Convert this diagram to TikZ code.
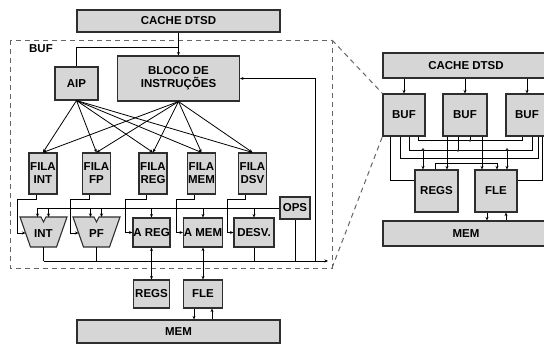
\documentclass[tikz,border=0pt]{standalone}
\usepackage{fontspec}
\setsansfont{Liberation Sans}
\usetikzlibrary{arrows.meta}
\definecolor{ink}{gray}{0.18}
\definecolor{shade}{gray}{0.84}
\definecolor{frame}{gray}{0.40}

\begin{document}
\begin{tikzpicture}[x=1pt,y=-1pt,line width=0.8pt,
  >={Stealth[length=3.5pt,width=3pt]},
  lab/.style={font=\sffamily\bfseries\fontsize{11.5}{13}\selectfont},
  alu/.style={draw=ink,fill=shade,line width=1.1pt},
  blk/.style={alu,lab,inner sep=0pt,align=center},
  hull/.style={draw=frame,line width=1pt,dash pattern=on 5pt off 4pt}]
  \useasboundingbox (0,0) rectangle (544,346);
  % left: one buf in detail
  \node[blk,minimum width=203,minimum height=22] (cacheL) at (178.5,21) {CACHE DTSD};
  \coordinate (bufnw) at (10,40);
  \coordinate (bufne) at (332,40);
  \coordinate (bufse) at (332,268);
  \draw[hull] (bufnw) rectangle (bufse);
  \node[lab] (buflbl) at (41,49) {BUF};
  \node[blk,minimum width=43,minimum height=33] (aip) at (76.5,83.5) {AIP};
  \node[blk,minimum width=122,minimum height=45] (bloco) at (178.5,78.5) {BLOCO DE\\INSTRUÇÕES};
  \coordinate (jt) at (178.5,47);
  \draw[->] (cacheL.south) -- (bloco.north);
  \draw (aip.north) |- (jt);
  \foreach \n/\x/\lbl in {int/43/INT,fp/96.5/FP,reg/153/REG,mem/201.5/MEM,dsv/252.5/DSV}{
    \node[blk,minimum width=28,minimum height=41] (f\n) at (\x,173.5) {FILA\\\lbl};
    \draw[->] (aip.south) -- (f\n.north);
    \draw[->] (bloco.south) -- (f\n.north);
  }
  \node[blk,minimum width=30,minimum height=22] (ops) at (295,208) {OPS};
  \node[blk,minimum width=37,minimum height=29] (areg) at (151.5,232.5) {A REG};
  \node[blk,minimum width=39,minimum height=29] (amem) at (203,232.5) {A MEM};
  \node[blk,minimum width=40,minimum height=29] (desv) at (254,232.5) {DESV.};
  % the two alus
  \foreach \n/\x/\lbl in {int/43.5/INT,pf/96.5/PF}{
    \draw[alu] ({\x-23.5},217) -- ({\x-2.5},217) -- (\x,222) -- ({\x+2.5},217)
      -- ({\x+23.5},217) -- ({\x+13},247) -- ({\x-13},247) -- cycle;
    \node[lab] (\n) at (\x,234) {\lbl};
    \coordinate (\n-in) at ({\x-18},233);
    \coordinate (\n-a) at ({\x-6},217);
    \coordinate (\n-b) at ({\x+5},217);
    \coordinate (\n-out) at (\x,247);
  }
  \draw[->] (ops.west) -| (int-a);
  \foreach \t in {int-b,pf-a,pf-b} \draw[->] (\t |- ops.west) -- (\t);
  \foreach \t in {areg,amem,desv} \draw[->] (\t.north |- ops.west) -- (\t.north);
  \foreach \n/\b/\t in {int/17/int-in,fp/70/pf-in,reg/125/areg.west,mem/176/amem.west,dsv/227/desv.west}
    \draw[->] ([xshift=-7pt]f\n.south) |- (\b,199) |- (\t);
  % result bus and feedback
  \coordinate (bus0) at (43.5,261);
  \coordinate (bus1) at (328,261);
  \coordinate (fb) at (315,261);
  \draw[->] (bus0) -- (bus1);
  \foreach \t in {int-out,pf-out,desv.south,ops.south} \draw (\t) -- (\t |- bus0);
  \draw[->] (fb) |- (bloco.east);
  \node[blk,minimum width=36,minimum height=28] (regsL) at (151.5,294) {REGS};
  \node[blk,minimum width=39,minimum height=28] (fleL) at (203,294) {FLE};
  \node[blk,minimum width=203,minimum height=23] (memL) at (178.5,331.5) {MEM};
  \draw[<->] (areg) -- (regsL);
  \draw[<->] (amem) -- (fleL);
  \draw[->] ([xshift=-9pt]fleL.south) -- ([xshift=-9pt]fleL.south |- memL.north);
  \draw[<-] ([xshift=9pt]fleL.south) -- ([xshift=9pt]fleL.south |- memL.north);
  % right: whole machine
  \node[blk,minimum width=166,minimum height=25] (cacheR) at (466,65.5) {CACHE DTSD};
  \foreach \n/\x/\w in {1/404/42,2/465/44,3/527/42}{
    \node[blk,minimum width=\w,minimum height=42] (buf\n) at (\x,115) {BUF};
    \draw[->] (cacheR.south -| buf\n) -- (buf\n);
  }
  \node[blk,minimum width=43,minimum height=42] (regsR) at (436.5,191) {REGS};
  \node[blk,minimum width=42,minimum height=42] (fleR) at (496,191) {FLE};
  \node[blk,minimum width=166,minimum height=25] (memR) at (466,233.5) {MEM};
  \draw[hull] (bufne) -- (buf1.north west);
  \draw[hull] (bufse) -- (buf1.south west);
  \draw ([xshift=-14pt]buf1.south) |- ([yshift=11pt]regsR.west);
  \draw ([xshift=15pt]buf3.south) |- ([yshift=11pt]fleR.east);
  \draw ([xshift=14pt]buf1.south) -- ++(0,4) -| ([xshift=-5pt]buf3.south);
  \draw ([xshift=5pt]buf1.south) -- ++(0,14) -| ([xshift=5pt]buf3.south);
  \draw ([xshift=-4pt]buf1.south) -- ++(0,22) -| ([xshift=11pt]buf3.south);
  \draw ([xshift=5pt]buf2.south) -- ++(0,4);
  \draw ([xshift=-7pt]buf2.south) -- ++(0,14);
  \fill[ink] ([xshift=5pt]buf2.south) ++(0,4) circle (1.3pt);
  \fill[ink] ([xshift=-7pt]buf2.south) ++(0,14) circle (1.3pt);
  \draw[->] ([xshift=-18pt]buf2.south) -- ([xshift=-18pt]buf2.south |- regsR.north);
  \draw[->] ([xshift=17pt]buf2.south) -- ([xshift=17pt]buf2.south |- fleR.north);
  \draw[->] ([xshift=-13.5pt,yshift=20pt]regsR.north) -- ([xshift=-13.5pt]regsR.north);
  \draw[->] ([xshift=11pt,yshift=20pt]fleR.north) -- ([xshift=11pt]fleR.north);
  \fill[ink] ([xshift=-13.5pt,yshift=20pt]regsR.north) circle (1.3pt);
  \fill[ink] ([xshift=11pt,yshift=20pt]fleR.north) circle (1.3pt);
  \draw[->] ([xshift=-1.5pt]regsR.north) -- ++(0,-6) -| ([xshift=1pt]fleR.north);
  \draw[->] ([xshift=-9pt]fleR.south) -- ([xshift=-9pt]fleR.south |- memR.north);
  \draw[<-] ([xshift=10pt]fleR.south) -- ([xshift=10pt]fleR.south |- memR.north);
\end{tikzpicture}
\end{document}
